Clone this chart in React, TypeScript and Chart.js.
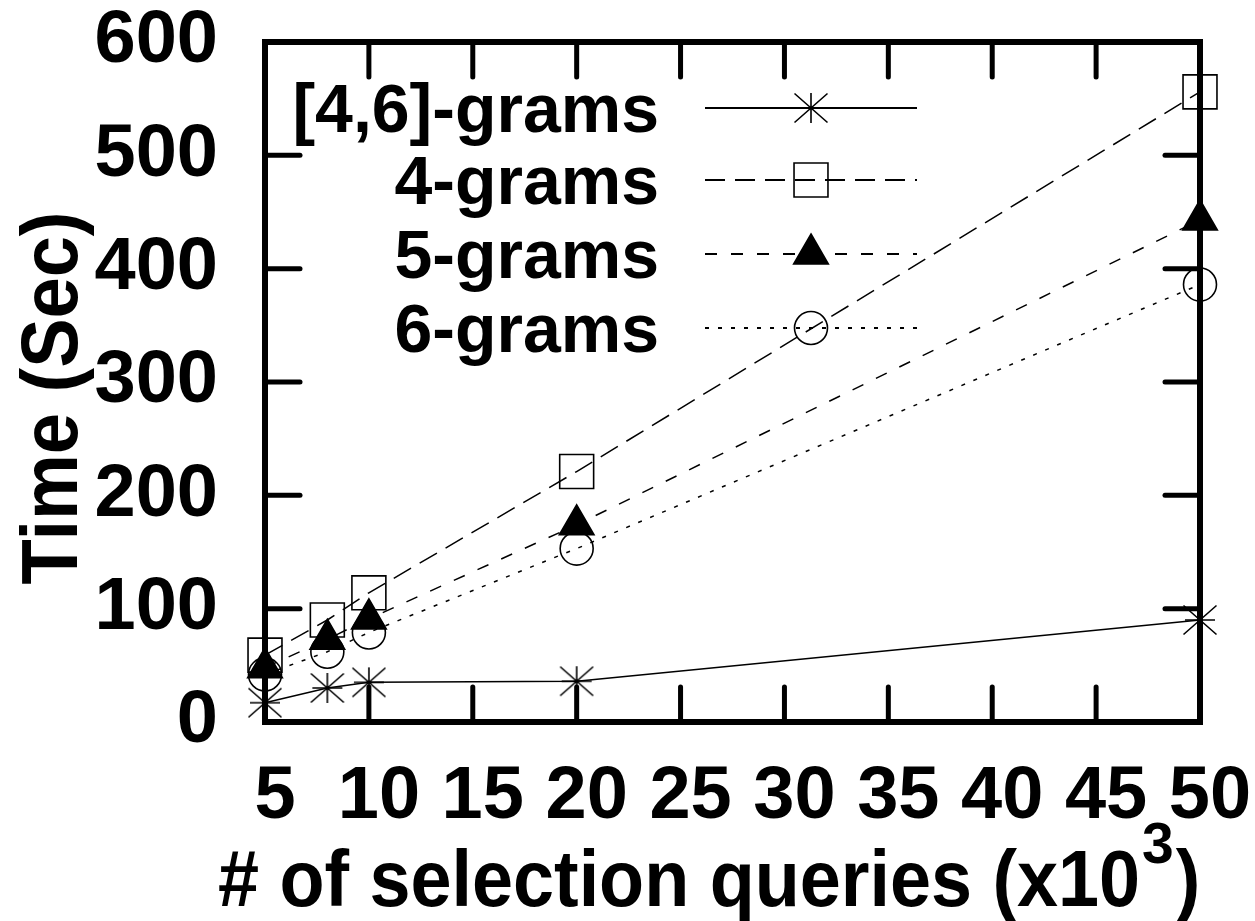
import React, { useEffect, useRef } from "react";
import { Chart, registerables } from "chart.js";

Chart.register(...registerables);

// ---- data ----
const xValues = [5, 8, 10, 20, 50];
const grams46 = [17, 30, 35, 36, 90];
const grams4 = [59, 90, 114, 221, 556];
const grams5 = [48, 73, 91, 174, 443];
const grams6 = [42, 62, 79, 153, 386];
const seriesLabels = ["[4,6]-grams", "4-grams", "5-grams", "6-grams"];
const xMin = 5;
const xMax = 50;
const xStep = 5;
const yMin = 0;
const yMax = 600;
const yStep = 100;
const xTitle = "# of selection queries (x10";
const xTitleSup = "3";
const xTitleEnd = ")";
const yTitle = "Time (Sec)";

const FONT = "'Liberation Sans', Arial, Helvetica, sans-serif";

function makeStar(): HTMLCanvasElement {
  const c = document.createElement("canvas");
  c.width = 40;
  c.height = 40;
  const g = c.getContext("2d")!;
  g.strokeStyle = "#000";
  g.lineWidth = 1.6;
  g.beginPath();
  g.moveTo(20, 5);
  g.lineTo(20, 35);
  g.moveTo(5, 20);
  g.lineTo(35, 20);
  g.moveTo(3.5, 5.5);
  g.lineTo(36.5, 34.5);
  g.moveTo(3.5, 34.5);
  g.lineTo(36.5, 5.5);
  g.stroke();
  return c;
}

function drawMarker(ctx: CanvasRenderingContext2D, ds: any, x: number, y: number) {
  const style = ds.pointStyle;
  const r = ds.pointRadius;
  ctx.save();
  ctx.lineWidth = ds.pointBorderWidth;
  ctx.strokeStyle = "#000";
  ctx.fillStyle = ds.pointBackgroundColor;
  ctx.setLineDash([]);
  if (style instanceof HTMLCanvasElement) {
    ctx.drawImage(style, x - style.width / 2, y - style.height / 2);
  } else if (style === "rect") {
    const s = Math.SQRT1_2 * r;
    ctx.beginPath();
    ctx.rect(x - s, y - s, 2 * s, 2 * s);
    ctx.fill();
    ctx.stroke();
  } else if (style === "triangle") {
    ctx.beginPath();
    let rad = 0;
    for (let k = 0; k < 3; k++) {
      const px = x + Math.sin(rad) * r;
      const py = y - Math.cos(rad) * r;
      if (k === 0) ctx.moveTo(px, py);
      else ctx.lineTo(px, py);
      rad += (2 * Math.PI) / 3;
    }
    ctx.closePath();
    ctx.fill();
    ctx.stroke();
  } else if (style === "circle") {
    ctx.beginPath();
    ctx.arc(x, y, r, 0, Math.PI * 2);
    ctx.fill();
    ctx.stroke();
  }
  ctx.restore();
}

const decorPlugin = {
  id: "decor",
  afterDatasetsDraw(chart: any) {
    const { ctx, chartArea: a, scales } = chart;
    ctx.save();
    ctx.strokeStyle = "#000";
    ctx.setLineDash([]);
    ctx.lineWidth = 6;
    ctx.strokeRect(a.left, a.top, a.right - a.left, a.bottom - a.top);
    ctx.lineWidth = 5;
    ctx.lineCap = "round";
    const TL = 35;
    const seg = (x1: number, y1: number, x2: number, y2: number) => {
      ctx.beginPath();
      ctx.moveTo(x1, y1);
      ctx.lineTo(x2, y2);
      ctx.stroke();
    };
    scales.y.ticks.forEach((t: any) => {
      if (t.value <= scales.y.min || t.value >= scales.y.max) return;
      const py = scales.y.getPixelForValue(t.value);
      seg(a.left, py, a.left + TL, py);
      seg(a.right, py, a.right - TL, py);
    });
    scales.x.ticks.forEach((t: any) => {
      if (t.value <= scales.x.min || t.value >= scales.x.max) return;
      const px = scales.x.getPixelForValue(t.value);
      seg(px, a.bottom, px, a.bottom - TL);
      seg(px, a.top, px, a.top + TL);
    });
    ctx.restore();
  },
  afterDraw(chart: any) {
    const { ctx } = chart;
    ctx.save();
    ctx.fillStyle = "#000";

    // legend
    const rowY = [108, 180, 254, 328];
    chart.data.datasets.forEach((ds: any, i: number) => {
      const y = rowY[i];
      ctx.font = `bold 68px ${FONT}`;
      ctx.textAlign = "right";
      ctx.textBaseline = "alphabetic";
      ctx.fillText(ds.label, 659, y + 24);
      ctx.save();
      ctx.strokeStyle = "#000";
      ctx.lineWidth = 2;
      ctx.setLineDash(ds.borderDash || []);
      ctx.beginPath();
      ctx.moveTo(705, y);
      ctx.lineTo(917, y);
      ctx.stroke();
      ctx.restore();
      drawMarker(ctx, ds, 811, y);
    });

    // y title
    ctx.save();
    ctx.font = `bold 80px ${FONT}`;
    const yw = ctx.measureText(yTitle).width;
    ctx.translate(77, 398);
    ctx.rotate(-Math.PI / 2);
    ctx.scale(373 / yw, 1);
    ctx.textAlign = "center";
    ctx.textBaseline = "alphabetic";
    ctx.fillText(yTitle, 0, 0);
    ctx.restore();

    // x title
    ctx.font = `bold 80px ${FONT}`;
    ctx.textAlign = "left";
    ctx.textBaseline = "alphabetic";
    const w1 = ctx.measureText(xTitle).width;
    const sx = (1140 - 218) / w1;
    ctx.save();
    ctx.translate(218, 906);
    ctx.scale(sx, 1);
    ctx.fillText(xTitle, 0, 0);
    ctx.restore();
    const supX = 218 + w1 * sx + 2;
    ctx.font = `bold 57px ${FONT}`;
    ctx.fillText(xTitleSup, supX, 863);
    const sw = ctx.measureText(xTitleSup).width;
    ctx.font = `bold 80px ${FONT}`;
    ctx.save();
    ctx.translate(supX + sw + 2, 906);
    ctx.scale(sx, 1);
    ctx.fillText(xTitleEnd, 0, 0);
    ctx.restore();

    ctx.restore();
  },
};

export default function App() {
  const ref = useRef<HTMLCanvasElement | null>(null);

  useEffect(() => {
    document.body.style.margin = "0";
    const canvas = ref.current!;
    const star = makeStar();
    const toPts = (ys: number[]) => xValues.map((x, i) => ({ x, y: ys[i] }));
    const common = {
      borderColor: "#000",
      borderWidth: 1.5,
      pointBorderColor: "#000",
      pointBorderWidth: 1.6,
      clip: false as any,
      tension: 0,
    };
    const chart = new Chart(canvas, {
      type: "line",
      data: {
        datasets: [
          {
            ...common,
            label: seriesLabels[0],
            data: toPts(grams46),
            borderDash: [],
            pointStyle: star as any,
            pointRadius: 18,
            pointBackgroundColor: "rgba(0,0,0,0)",
          },
          {
            ...common,
            label: seriesLabels[1],
            data: toPts(grams4),
            borderDash: [20, 10],
            pointStyle: "rect",
            pointRadius: 24,
            pointBackgroundColor: "rgba(0,0,0,0)",
          },
          {
            ...common,
            label: seriesLabels[2],
            data: toPts(grams5),
            borderDash: [12, 14],
            pointStyle: "triangle",
            pointRadius: 20,
            pointBackgroundColor: "#000",
          },
          {
            ...common,
            label: seriesLabels[3],
            data: toPts(grams6),
            borderDash: [4, 9],
            pointStyle: "circle",
            pointRadius: 16.5,
            pointBackgroundColor: "rgba(0,0,0,0)",
          },
        ] as any,
      },
      options: {
        responsive: false,
        animation: false,
        devicePixelRatio: 1,
        layout: { padding: { left: 0, right: 55, top: 42, bottom: 0 } },
        plugins: {
          legend: { display: false },
          tooltip: { enabled: false },
        },
        scales: {
          x: {
            type: "linear",
            min: xMin,
            max: xMax,
            grid: { display: false, drawTicks: false },
            border: { display: false },
            ticks: {
              stepSize: xStep,
              autoSkip: false,
              maxRotation: 0,
              minRotation: 0,
              padding: 31,
              labelOffset: 10,
              color: "#000",
              font: { family: FONT, size: 74, weight: "bold" },
            },
            afterFit: (s: any) => {
              s.height = 199;
              s.paddingLeft = 0;
              s.paddingRight = 0;
              s.paddingTop = 0;
              s.paddingBottom = 0;
            },
          },
          y: {
            type: "linear",
            min: yMin,
            max: yMax,
            grid: { display: false, drawTicks: false },
            border: { display: false },
            ticks: {
              stepSize: yStep,
              autoSkip: false,
              padding: 47,
              color: "#000",
              font: { family: FONT, size: 74, weight: "bold" },
            },
            afterFit: (s: any) => {
              s.width = 265;
              s.paddingLeft = 0;
              s.paddingRight = 0;
              s.paddingTop = 0;
              s.paddingBottom = 0;
            },
          },
        },
      } as any,
      plugins: [decorPlugin],
    });
    return () => chart.destroy();
  }, []);

  return (
    <div style={{ position: "absolute", left: 0, top: 0 }}>
      <canvas ref={ref} width={1255} height={921} style={{ display: "block" }} />
    </div>
  );
}
